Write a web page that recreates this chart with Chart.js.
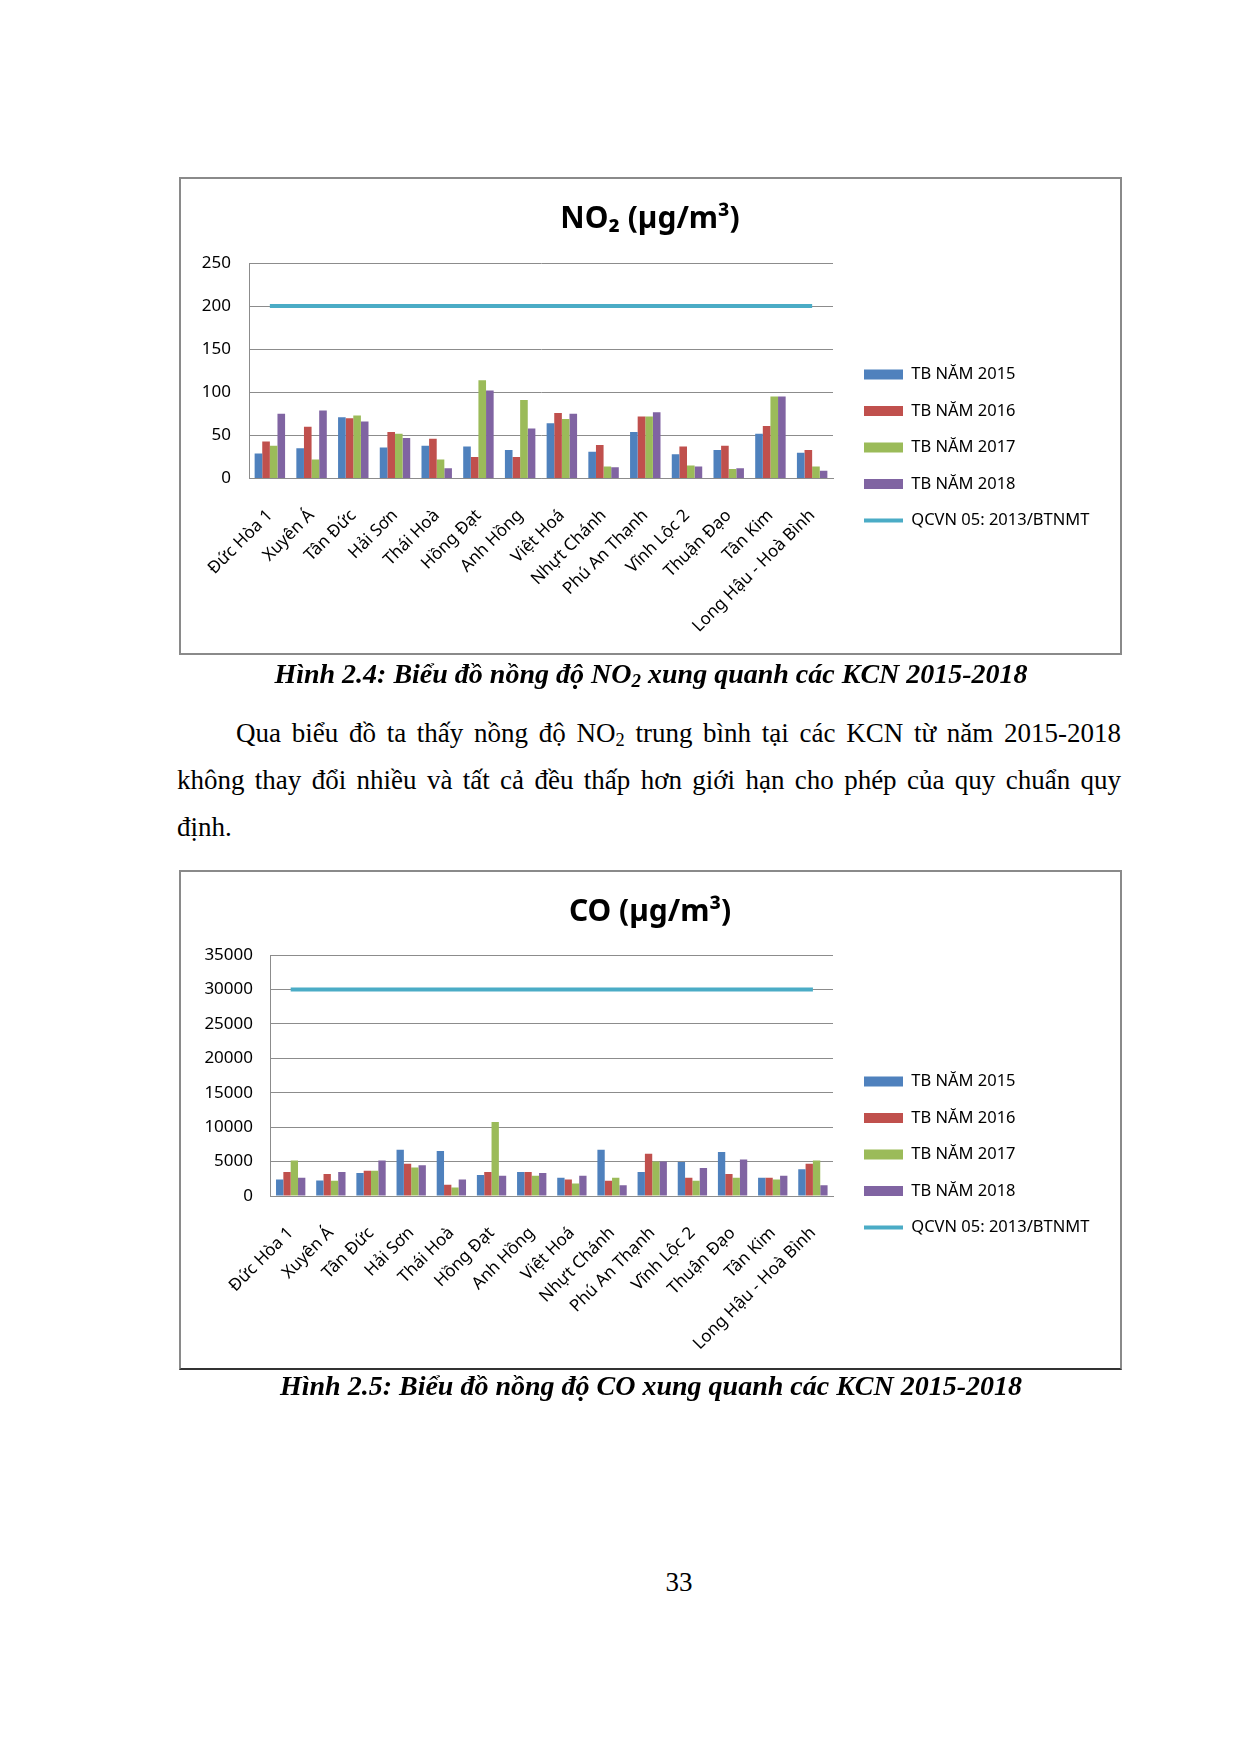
<!DOCTYPE html>
<html>
<head>
<meta charset="utf-8">
<script src="https://cdn.jsdelivr.net/npm/chart.js@4.4.0/dist/chart.umd.min.js"></script>
<style>
html,body{margin:0;padding:0;background:#fff;}
body{width:1240px;height:1754px;position:relative;overflow:hidden;font-family:"Liberation Serif","Times New Roman",serif;color:#000;}
.box{position:absolute;box-sizing:border-box;border:2px solid #8a8a8a;background:#fff;}
canvas{position:absolute;z-index:2;}
.txt{position:absolute;font-size:27px;line-height:30px;white-space:nowrap;z-index:3;}
.cap{font-weight:bold;font-style:italic;text-align:center;font-size:28px;}
.just{text-align:justify;text-align-last:justify;white-space:normal;}
sub{font-size:0.68em;vertical-align:-0.22em;line-height:0;}
</style>
</head>
<body>
<div class="box" style="left:179px;top:177px;width:943px;height:478px;"></div>
<canvas id="c1" width="940" height="539" style="left:180px;top:178px;width:940px;height:539px;"></canvas>
<div class="txt cap" style="left:151px;top:659px;width:1000px;">Hình 2.4: Biểu đồ nồng độ NO<sub>2</sub> xung quanh các KCN 2015-2018</div>
<div class="txt just" style="left:236px;top:718px;width:885px;">Qua biểu đồ ta thấy nồng độ NO<sub>2</sub> trung bình tại các KCN từ năm 2015-2018</div>
<div class="txt just" style="left:177px;top:765px;width:944px;">không thay đổi nhiều và tất cả đều thấp hơn giới hạn cho phép của quy chuẩn quy</div>
<div class="txt" style="left:177px;top:812px;">định.</div>

<div class="box" style="left:179px;top:870px;width:943px;height:500px;border-bottom-color:#333;"></div>
<canvas id="c2" width="940" height="567" style="left:180px;top:871px;width:940px;height:567px;"></canvas>
<div class="txt cap" style="left:151px;top:1371px;width:1000px;">Hình 2.5: Biểu đồ nồng độ CO xung quanh các KCN 2015-2018</div>

<div class="txt" style="left:629px;top:1567px;width:100px;text-align:center;">33</div>

<script>
// ---------- DATA ----------
const categories = ["Đức Hòa 1","Xuyên Á","Tân Đức","Hải Sơn","Thái Hoà","Hồng Đạt","Anh Hồng","Việt Hoá","Nhựt Chánh","Phú An Thạnh","Vĩnh Lộc 2","Thuận Đạo","Tân Kim","Long Hậu - Hoà Bình"];
const seriesNames = ["TB NĂM 2015","TB NĂM 2016","TB NĂM 2017","TB NĂM 2018"];
const limitName = "QCVN 05: 2013/BTNMT";

const no2Title = "NO₂ (µg/m³)";
const no2_2015 = [29, 35, 71, 36, 38, 37, 33, 64, 31, 54, 28, 33, 52, 30];
const no2_2016 = [43, 60, 70, 54, 46, 25, 25, 76, 39, 72, 37, 38, 61, 33];
const no2_2017 = [38, 22, 73, 52, 22, 114, 91, 69, 14, 72, 15, 11, 95, 14];
const no2_2018 = [75, 79, 66, 47, 12, 102, 58, 75, 13, 77, 14, 12, 95, 9];
const no2_limit = [200, 200, 200, 200, 200, 200, 200, 200, 200, 200, 200, 200, 200, 200];
const no2Ticks = {min: 0, max: 250, step: 50};

const coTitle = "CO (µg/m³)";
const co_2015 = [2400, 2250, 3350, 6700, 6550, 3050, 3500, 2650, 6700, 3500, 4950, 6400, 2650, 3900];
const co_2016 = [3500, 3200, 3650, 4700, 1650, 3500, 3500, 2400, 2200, 6150, 2650, 3200, 2650, 4700];
const co_2017 = [5150, 2200, 3650, 4150, 1250, 10750, 2950, 1800, 2650, 5000, 2200, 2650, 2400, 5150];
const co_2018 = [2650, 3500, 5150, 4450, 2400, 2950, 3350, 2950, 1550, 5000, 4050, 5300, 2950, 1550];
const co_limit = [30000, 30000, 30000, 30000, 30000, 30000, 30000, 30000, 30000, 30000, 30000, 30000, 30000, 30000];
const coTicks = {min: 0, max: 35000, step: 5000};

// ---------- STYLE ----------
const barColors = ["#4F81BD", "#C0504D", "#9BBB59", "#8064A2"];
const lineColor = "#4BACC6";
const gridColor = "#8c8c8c";
const FONT = "Noto Sans";

function makeChart(canvasId, title, series, limit, ticks, geo) {
  const datasets = series.map((d, i) => ({
    type: 'bar',
    label: seriesNames[i],
    data: d,
    backgroundColor: barColors[i],
    borderWidth: 0,
    categoryPercentage: 0.73,
    barPercentage: 1.0
  }));
  datasets.push({
    type: 'line',
    label: limitName,
    data: limit,
    borderColor: lineColor,
    backgroundColor: lineColor,
    borderWidth: 4,
    pointRadius: 0,
    fill: false,
    tension: 0
  });

  return new Chart(document.getElementById(canvasId), {
    type: 'bar',
    data: {labels: categories, datasets: datasets},
    options: {
      responsive: false,
      animation: false,
      devicePixelRatio: 1,
      layout: {padding: 0},
      plugins: {
        tooltip: {enabled: false},
        title: {
          display: true,
          text: title,
          color: '#000',
          font: {family: FONT, size: 30, weight: 'bold'},
          padding: {top: 23, bottom: geo.titleBottom}
        },
        legend: {
          position: 'right',
          align: 'center',
          maxWidth: 420,
          labels: {
            usePointStyle: true,
            pointStyleWidth: 39,
            boxWidth: 39,
            boxHeight: 10,
            padding: 20,
            color: '#000',
            font: {family: FONT, size: 16.5},
            generateLabels(chart) {
              const items = Chart.defaults.plugins.legend.labels.generateLabels(chart);
              items.forEach(it => {
                const ds = chart.data.datasets[it.datasetIndex];
                if (ds.type === 'line') {
                  it.pointStyle = 'line';
                  it.lineWidth = 4;
                  it.strokeStyle = ds.borderColor;
                } else {
                  it.pointStyle = 'rect';
                  it.lineWidth = 0;
                  it.fillStyle = ds.backgroundColor;
                }
              });
              return items;
            }
          }
        }
      },
      scales: {
        x: {
          offset: true,
          grid: {display: false, drawTicks: false},
          border: {display: true, color: gridColor, width: 1},
          ticks: {
            autoSkip: false, maxRotation: 45, minRotation: 45, padding: 27,
            color: '#000', font: {family: FONT, size: 17}
          },
          afterFit(s) { s.height = geo.xHeight; }
        },
        y: {
          min: ticks.min, max: ticks.max,
          grid: {color: gridColor, drawTicks: false, lineWidth: 1},
          border: {display: true, color: gridColor, width: 1},
          ticks: {
            stepSize: ticks.step, padding: geo.yPad, color: '#000',
            font: {family: FONT, size: 17},
            callback: v => String(v)
          },
          afterFit(s) { s.width = geo.yWidth; }
        },
        gapR: {
          type: 'linear', position: 'right', weight: 0,
          grid: {display: false, drawTicks: false},
          border: {display: false},
          ticks: {display: false},
          afterFit(s) { s.width = 11; }
        },
        padR: {
          type: 'linear', position: 'right', weight: 2000,
          grid: {display: false, drawTicks: false},
          border: {display: false},
          ticks: {display: false},
          afterFit(s) {
            const lw = s.chart.legend ? s.chart.legend.width : 0;
            s.width = Math.max(0, s.chart.width - 664 - lw);
          }
        }
      }
    }
  });
}

makeChart('c1', no2Title, [no2_2015, no2_2016, no2_2017, no2_2018], no2_limit, no2Ticks,
  {titleBottom: 26, xHeight: 238.5, yWidth: 69, yPad: 18});
makeChart('c2', coTitle, [co_2015, co_2016, co_2017, co_2018], co_limit, coTicks,
  {titleBottom: 25, xHeight: 242, yWidth: 90.6, yPad: 17.6});
</script>
</body>
</html>
